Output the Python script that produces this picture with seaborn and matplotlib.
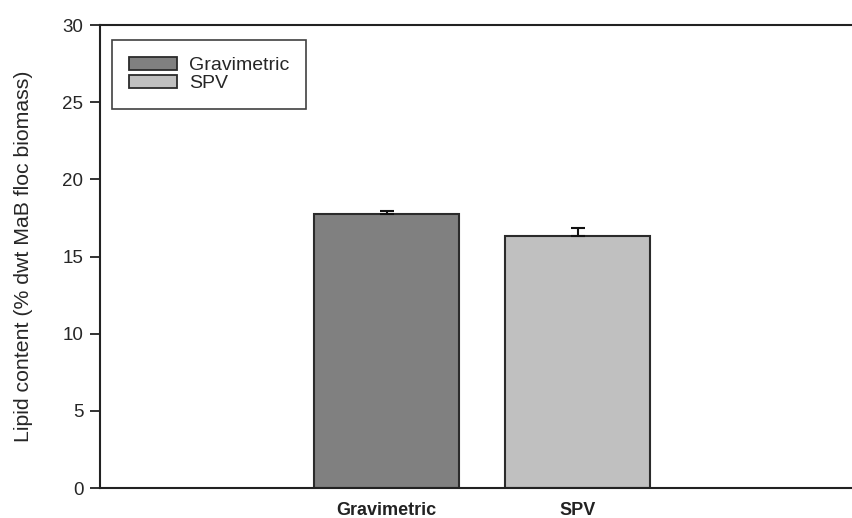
import matplotlib
matplotlib.use("Agg")
import matplotlib.pyplot as plt
import seaborn as sns
import pandas as pd

# Lipid content measured by two methods (mean and standard error)
methods = ["Gravimetric", "SPV"]
lipid_mean = [17.75, 16.3]
lipid_err = [0.22, 0.55]
bar_colors = ["#808080", "#c0c0c0"]
y_ticks = [0, 5, 10, 15, 20, 25, 30]

df = pd.DataFrame({"method": methods, "lipid": lipid_mean})

sns.set_theme(style="white")
plt.rcParams["font.family"] = ["Liberation Sans", "DejaVu Sans"]

fig = plt.figure(figsize=(8.52, 5.18), dpi=100)
ax = fig.add_axes([0.1174, 0.0579, 0.8973, 0.8938])

sns.barplot(data=df, x="method", y="lipid", hue="method", order=methods,
            hue_order=methods, palette=bar_colors, width=0.76, dodge=False,
            edgecolor="#2b2b2b", linewidth=1.5, errorbar=None, legend=True, ax=ax)

# upper-only error bars
ax.errorbar(x=range(len(methods)), y=lipid_mean,
            yerr=[[0] * len(methods), lipid_err], fmt="none",
            ecolor="#111111", elinewidth=1.5, capsize=5, capthick=1.5, zorder=5)

ax.set_xlim(-1.5, 2.5)
ax.set_ylim(0, 30)
ax.set_yticks(y_ticks)
ax.set_yticklabels([str(t) for t in y_ticks], fontsize=13.5)
ax.set_xlabel("")
ax.set_ylabel("Lipid content (% dwt MaB floc biomass)", fontsize=15.3, labelpad=21)
ax.tick_params(axis="y", left=True, length=7, width=1.3, pad=5, color="#222222")
ax.tick_params(axis="x", bottom=False, length=0, pad=10, labelsize=13)
for lbl in ax.get_xticklabels():
    lbl.set_fontweight("bold")
    lbl.set_color("#222222")

for side in ["left", "bottom", "top"]:
    ax.spines[side].set_visible(True)
    ax.spines[side].set_color("#222222")
    ax.spines[side].set_linewidth(1.5)
ax.spines["right"].set_visible(False)

leg = ax.legend(loc="upper left", bbox_to_anchor=(0.0157, 0.9676),
                borderaxespad=0, fontsize=14, frameon=True, fancybox=False,
                handlelength=2.5, handleheight=0.67, labelspacing=0.05,
                borderpad=0.85, handletextpad=0.6)
leg.get_frame().set_edgecolor("#111111")
leg.get_frame().set_linewidth(1.2)
for h in leg.legend_handles:
    h.set_edgecolor("#2b2b2b")
    h.set_linewidth(1.3)

fig.savefig("out.png", dpi=100)
